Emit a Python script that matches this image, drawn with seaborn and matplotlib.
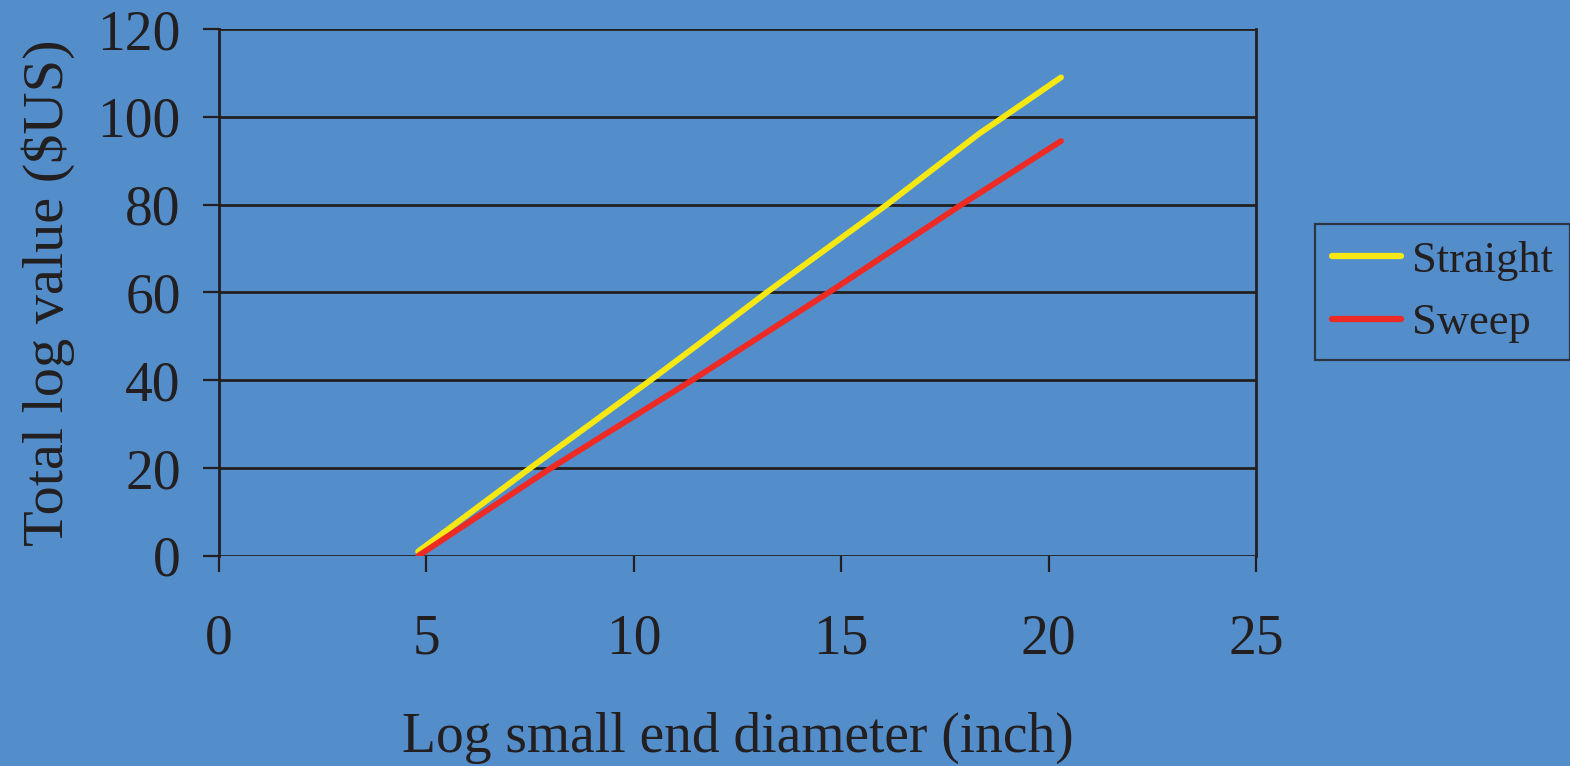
import pandas as pd
import matplotlib
matplotlib.use("Agg")
import matplotlib.pyplot as plt
import seaborn as sns

# Daten
straight_x = [4.8, 7.5, 10.4, 11.6, 13.2, 16.1, 18.3, 20.3]
straight_y = [1.0, 20.0, 40.0, 48.5, 60.0, 80.0, 96.0, 109.0]
sweep_x = [4.8, 8.0, 11.4, 14.7, 17.9, 20.3]
sweep_y = [0.0, 20.0, 40.0, 60.0, 80.0, 94.5]
series_names = ["Straight", "Sweep"]
x_ticks = [0, 5, 10, 15, 20, 25]
y_ticks = [0, 20, 40, 60, 80, 100, 120]

bg = "#538ecb"
ink = "#231f20"
colors = {"Straight": "#f6e813", "Sweep": "#ee2a24"}

df = pd.concat([
    pd.DataFrame({"diameter": straight_x, "value": straight_y, "log": "Straight"}),
    pd.DataFrame({"diameter": sweep_x, "value": sweep_y, "log": "Sweep"}),
])

sns.set_style("ticks")
plt.rcParams["font.family"] = ["Liberation Serif", "DejaVu Serif"]

fig = plt.figure(figsize=(15.7, 7.66), dpi=100, facecolor=bg)
ax = fig.add_axes([0.1395, 0.2742, 0.8 - 0.1395, 0.9621 - 0.2742])
ax.set_facecolor(bg)

sns.lineplot(data=df, x="diameter", y="value", hue="log", hue_order=series_names,
             palette=colors, linewidth=4.2, sort=False, ax=ax,
             solid_capstyle="round")

ax.set_xlim(0, 25)
ax.set_ylim(0, 120)
ax.set_xticks(x_ticks)
ax.set_yticks(y_ticks)

# Gitterlinien horizontal
for y in y_ticks:
    ax.axhline(y, color=ink, linewidth=2.0, zorder=1)

for s in ["top", "bottom"]:
    ax.spines[s].set_visible(False)
for s in ["left", "right"]:
    ax.spines[s].set_color(ink)
    ax.spines[s].set_linewidth(2.0)

ax.tick_params(axis="y", direction="out", length=11.5, width=1.6, color=ink,
               labelsize=40, labelcolor=ink, pad=16)
ax.tick_params(axis="x", direction="out", length=11.5, width=1.6, color=ink,
               labelsize=40, labelcolor=ink, pad=30)

ax.set_xlabel("Log small end diameter (inch)", fontsize=40, color=ink, labelpad=33)
ax.set_ylabel("Total log value ($US)", fontsize=42, color=ink, labelpad=16)

leg = ax.legend(loc="center left", bbox_to_anchor=(0.8376, 0.619),
                bbox_transform=fig.transFigure, fontsize=32, frameon=True,
                fancybox=False, handlelength=1.55, handletextpad=0.25,
                borderpad=0.38, labelspacing=0.5, borderaxespad=0)
leg.get_frame().set_facecolor(bg)
leg.get_frame().set_edgecolor(ink)
leg.get_frame().set_linewidth(1.6)
for t in leg.get_texts():
    t.set_color(ink)
for l in leg.get_lines():
    l.set_linewidth(4.5)
    l.set_solid_capstyle("round")

plt.savefig("out.png", dpi=100, facecolor=bg)
